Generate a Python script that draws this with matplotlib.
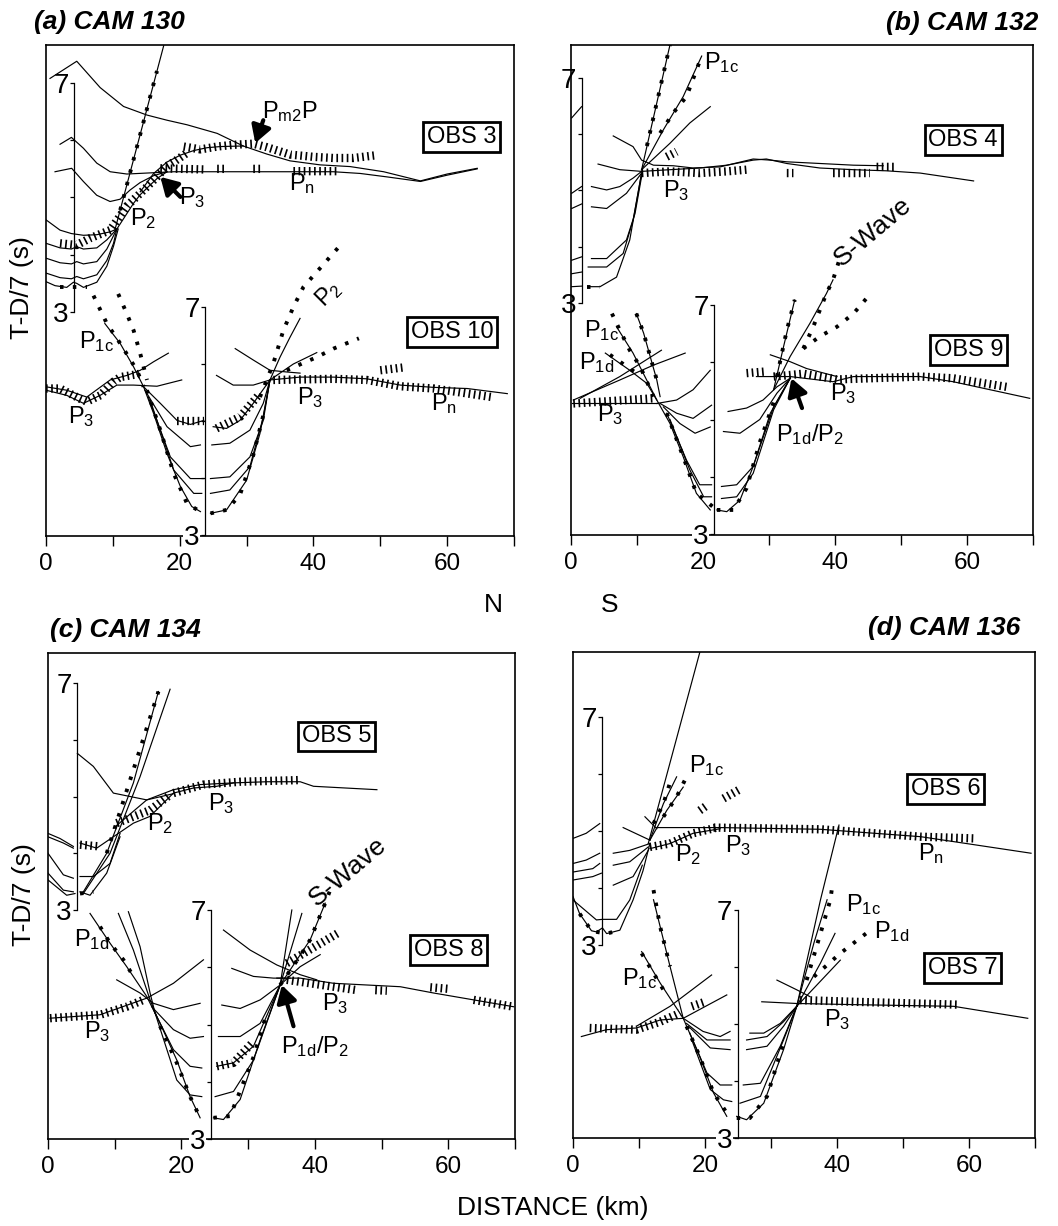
import numpy as np
import matplotlib.pyplot as plt

plt.rcParams['font.family'] = ['Liberation Sans', 'DejaVu Sans']
plt.rcParams['mathtext.fontset'] = 'custom'
plt.rcParams['mathtext.rm'] = 'Liberation Sans'

nan = np.nan
W, H = 1058, 1226

# travel-time curves (km, reduced time T-D/7 in s) per instrument
# lines = model curves, bars = dense picks, dots = sparse picks

# ---------- (a) CAM 130 ----------
obs3_lines = [
    ([0.6, 4.6, 8.1, 11.6, 15.1, 18.1, 21.1, 25.6, 29.5, 33.0, 36.5, 41.0, 45.5, 50.5, 56.0, 60.0, 64.5],
     [7.08, 7.38, 6.92, 6.59, 6.44, 6.35, 6.27, 6.12, 5.90, 5.76, 5.64, 5.57, 5.54, 5.45, 5.29, 5.41, 5.51]),
    ([2.1, 3.8, 5.6, 7.6, 9.6, 12.1, 15.6, 19.1, 28.0, 36.5, 43.0, 47.0, 51.0, 56.0, 60.0, 64.5],
     [5.93, 6.05, 5.86, 5.60, 5.45, 5.41, 5.43, 5.45, 5.45, 5.45, 5.45, 5.42, 5.36, 5.28, 5.39, 5.50]),
    ([1.35, 3.84, 5.59, 7.58, 9.58, 11.08, 12.57, 14.07, 16.07, 18.06],
     [5.45, 5.51, 5.28, 5.04, 4.93, 4.97, 5.13, 5.26, 5.38, 5.45]),
    ([10.6, 12.1, 13.1, 14.1, 15.6, 16.6, 18.1], [4.45, 4.72, 4.90, 5.05, 5.22, 5.33, 5.45]),
    ([14.1, 16.1, 18.1, 20.1, 22.1, 24.1, 26.1, 29.5], [5.10, 5.42, 5.62, 5.74, 5.82, 5.87, 5.89, 5.90]),
    ([0, 2.1, 3.8, 5.6, 7.6, 9.6, 10.6], [4.61, 4.43, 4.37, 4.34, 4.35, 4.40, 4.45]),
    ([0, 2.1, 3.8, 4.6, 5.6, 7.6, 9.1, 10.6], [4.20, 4.12, 4.10, 4.14, 4.10, 4.12, 4.26, 4.45]),
    ([0, 2.1, 3.8, 4.6, 5.6, 7.6, 9.1, 10.6], [3.94, 3.86, 3.84, 3.88, 3.84, 3.88, 4.10, 4.45]),
    ([0, 2.1, 3.8, 4.6, 5.6, 7.6, 9.1, 10.1, 10.6], [3.68, 3.60, 3.58, 3.62, 3.58, 3.65, 3.90, 4.20, 4.45]),
    ([0, 1.35, 3.1, 4.1, 4.6, 5.6, 7.6, 9.1, 10.1, 10.8], [3.53, 3.46, 3.43, 3.52, 3.50, 3.43, 3.52, 3.80, 4.15, 4.45]),
    ([10.3, 17.6], [4.43, 7.65]),
]
obs3_bars = [
    ([20.6, 23.1, 25.6, 28.0, 31.0, 33.0, 36.5, 40.0, 43.0, 46.0, 49.5],
     [5.89, 5.84, 5.89, 5.92, 5.94, 5.88, 5.75, 5.71, 5.69, 5.69, 5.74]),
    ([17.1, 23.6, nan, 25.6, 27.1, nan, 31.0, 32.5, nan, 37.0, 43.5],
     [5.51, 5.49, nan, 5.50, 5.50, nan, 5.50, 5.50, nan, 5.46, 5.46]),
    ([2.1, 4.6, 6.6, 9.6, 12.1, 14.6, 16.6, 18.1, 19.1, 21.1],
     [4.20, 4.17, 4.29, 4.43, 4.85, 5.13, 5.36, 5.55, 5.62, 5.78]),
]
obs3_dots = [
    ([11.1, 16.6], [4.78, 7.21]),
    ([2.1, 6.1], [3.44, 3.44]),
]
obs3_labels = [(14.6, 4.64, r'$\mathregular{P_2}$', 0), (21.9, 5.0, r'$\mathregular{P_3}$', 0),
               (36.5, 6.5, r'$\mathregular{P_{m2}P}$', 0), (38.3, 5.25, r'$\mathregular{P_n}$', 0)]
obs3_arrows = [((20.1, 5.01), (17.1, 5.36)), ((32.5, 6.35), (31.3, 5.95))]

obs10_lines = [
    ([0, 3.1, 5.6, 8.1, 10.6, 13.1, 16.6, 20.3], [5.54, 5.45, 5.31, 5.45, 5.63, 5.63, 5.61, 5.72]),
    ([0, 3.1, 6.1, 9.6, 12.1, 14.1, 16.1, 18.3], [5.60, 5.54, 5.42, 5.72, 5.80, 5.89, 6.04, 6.19]),
    ([8.8, 11.1, 13.1, 14.6, 16.1, 18.1, 20.1, 21.8, 23.1], [6.71, 6.36, 5.95, 5.60, 5.13, 4.43, 3.85, 3.50, 3.41]),
    ([14.6, 17.1, 19.6, 21.6, 23.6], [5.60, 5.31, 5.01, 4.94, 5.01]),
    ([14.8, 18.1, 21.6, 23.1], [5.54, 4.90, 4.55, 4.58]),
    ([15.3, 18.6, 21.6, 23.6], [5.42, 4.37, 3.99, 3.99]),
    ([15.6, 19.1, 22.1, 23.3], [5.36, 4.14, 3.73, 3.73]),
    ([25.5, 28.0, 31.0, 33.5], [5.80, 5.63, 5.63, 5.72]),
    ([28.3, 31.0, 33.5, 36.0, 38.0], [6.27, 6.07, 5.89, 5.86, 5.84]),
    ([25.0, 27.0, 29.0, 31.0, 33.5], [4.90, 4.87, 5.01, 5.31, 5.72]),
    ([24.8, 27.5, 30.5, 32.5, 33.5], [4.58, 4.61, 4.84, 5.31, 5.72]),
    ([24.6, 27.5, 30.5, 32.5, 33.5], [3.99, 4.02, 4.37, 5.01, 5.72]),
    ([24.6, 27.5, 30.5, 32.5, 33.5], [3.73, 3.79, 4.20, 5.07, 5.72]),
    ([24.6, 27.0, 30.0, 32.0, 33.5], [3.38, 3.44, 3.96, 4.78, 5.72]),
    ([33.5, 38.0, 43.0, 48.0, 53.0, 58.0, 63.0, 69.0], [5.72, 5.77, 5.77, 5.74, 5.63, 5.59, 5.57, 5.48]),
    ([33.5, 35.0, 36.5, 38.0], [5.72, 6.12, 6.47, 6.80]),
    ([33.5, 37.0, 40.5], [5.72, 6.00, 6.20]),
]
obs10_bars = [
    ([0, 2.1, 5.1, 6.1, 8.1, 10.1, 11.1, 14.1], [5.57, 5.57, 5.39, 5.34, 5.45, 5.69, 5.77, 5.83]),
    ([19.6, 23.6], [5.0, 5.0]),
    ([34.0, 43.0, 48.0, 53.0, 58.0, 66.7], [5.72, 5.74, 5.72, 5.61, 5.57, 5.42]),
    ([50.0, 53.5], [5.89, 5.94]),
    ([25.5, 29.0, 32.0], [4.87, 5.07, 5.48]),
]
obs10_dots = [
    ([7.1, 9.1, 11.1, 13.6, 14.6], [7.20, 6.71, 6.36, 5.89, 5.60]),
    ([10.8, 12.1, 13.1, 14.1, 15.1], [7.23, 6.88, 6.59, 6.18, 5.72]),
    ([15.1, 17.1, 19.1, 21.1, 23.1], [5.54, 4.84, 4.08, 3.55, 3.41]),
    ([32.0, 34.0, 35.5, 37.0, 38.5, 44.0], [5.42, 6.01, 6.59, 7.00, 7.35, 8.08]),
    ([36.0, 40.5, 43.0, 46.8], [5.89, 6.12, 6.27, 6.45]),
    ([24.6, 27.0, 29.0, 31.0, 32.5], [3.38, 3.44, 3.70, 4.40, 5.10]),
]
obs10_labels = [(7.6, 6.39, r'$\mathregular{P_{1c}}$', 0), (5.3, 5.07, r'$\mathregular{P_3}$', 0),
                (39.5, 5.42, r'$\mathregular{P_3}$', 0), (59.5, 5.31, r'$\mathregular{P_n}$', 0),
                (42.3, 7.23, r'$\mathregular{P_2}$', 45)]
obs10_arrows = []

# ---------- (b) CAM 132 ----------
obs4_lines = [
    ([10.7, 15.0], [5.37, 7.59]),
    ([10.7, 14.0, 17.0, 19.8], [5.37, 6.08, 6.67, 7.39]),
    ([10.7, 15.0, 18.0, 21.1], [5.37, 5.84, 6.20, 6.49]),
    ([6.4, 9.4, 10.7, 12.5, 15.5, 18.5, 22.6, 27.6, 30.2, 32.7, 42.8, 47.3],
     [5.97, 5.78, 5.54, 5.45, 5.44, 5.40, 5.42, 5.56, 5.54, 5.51, 5.45, 5.44]),
    ([4.1, 7.4, 10.7, 15.0, 19.5, 23.6, 27.6, 29.6, 32.7, 37.7, 42.8, 47.8, 52.9, 61.0],
     [5.47, 5.37, 5.34, 5.37, 5.40, 5.45, 5.54, 5.56, 5.48, 5.40, 5.37, 5.35, 5.31, 5.17]),
    ([3.1, 5.4, 7.4, 9.4, 10.7], [5.07, 5.01, 5.07, 5.22, 5.34]),
    ([3.1, 5.4, 8.4, 10.7], [4.71, 4.68, 4.95, 5.31]),
    ([3.1, 5.4, 8.4, 9.7, 10.7], [3.79, 3.79, 4.12, 4.59, 5.25]),
    ([2.6, 5.4, 7.9, 9.4, 10.7], [3.64, 3.64, 3.88, 4.47, 5.31]),
    ([2.6, 4.4, 6.9, 8.9, 10.7], [3.29, 3.29, 3.46, 4.12, 5.31]),
    ([0.1, 1.6], [6.29, 6.49]),
    ([0.1, 1.6], [4.95, 5.07]),
    ([0.1, 1.6], [4.68, 4.76]),
    ([0.1, 1.6], [3.76, 3.82]),
    ([0.1, 1.6], [3.52, 3.55]),
    ([0.1, 1.6], [3.29, 3.30]),
]
obs4_bars = [
    ([10.7, 15.0, 19.5, 23.6, 26.6, nan, 32.7, 33.7, nan, 39.7, 45.3, nan, 46.3, 49.3],
     [5.31, 5.34, 5.31, 5.34, 5.37, nan, 5.31, 5.31, nan, 5.31, 5.31, nan, 5.42, 5.42]),
    ([14.5, 16.0], [5.60, 5.69]),
]
obs4_dots = [
    ([13.5, 15.5, 17.5, 19.8], [6.02, 6.38, 6.67, 7.39]),
    ([11.5, 15.0], [5.79, 7.59]),
    ([2.4, 4.4], [3.29, 3.29]),
]
obs4_labels = [(22.8, 7.27, r'$\mathregular{P_{1c}}$', 0), (16.0, 5.0, r'$\mathregular{P_3}$', 0)]
obs4_arrows = []

obs9_lines = [
    ([0.1, 13.0], [5.28, 5.28]),
    ([1.4, 7.4, 13.7], [5.37, 5.75, 6.21]),
    ([0.35, 7.4, 12.5, 17.3], [5.34, 5.69, 5.95, 6.16]),
    ([6.9, 9.4, 13.0, 15.0, 17.0, 19.0, 21.1], [6.62, 6.16, 5.34, 4.93, 4.35, 3.71, 3.42]),
    ([5.2, 8.9, 11.5, 13.0], [6.16, 5.86, 5.63, 5.34]),
    ([9.9, 11.0, 12.0, 13.0, 13.5], [6.85, 6.51, 6.10, 5.69, 5.40]),
    ([13.0, 16.0, 18.5, 21.1], [5.28, 5.34, 5.52, 5.86]),
    ([13.5, 16.0, 18.5, 21.3], [5.28, 5.11, 5.02, 5.25]),
    ([14.0, 16.5, 18.8, 21.1], [5.22, 4.93, 4.76, 4.87]),
    ([14.5, 17.5, 19.5, 21.3], [5.11, 4.29, 3.86, 3.86]),
    ([15.0, 18.0, 20.1, 21.3], [5.00, 4.12, 3.65, 3.65]),
    ([23.8, 26.6, 29.1, 31.2, 33.2], [5.14, 5.20, 5.34, 5.57, 5.72]),
    ([23.1, 25.6, 28.6, 31.2, 33.2], [4.79, 4.76, 5.00, 5.46, 5.72]),
    ([22.8, 25.1, 27.6, 30.7, 33.2], [3.83, 3.86, 4.18, 5.22, 5.72]),
    ([22.8, 25.1, 27.6, 30.7, 33.2], [3.62, 3.65, 4.06, 5.17, 5.72]),
    ([22.1, 23.6, 25.6, 27.6, 30.2, 33.2], [3.42, 3.39, 3.59, 4.18, 5.11, 5.72]),
    ([30.7, 32.2, 33.9], [5.52, 6.27, 7.09]),
    ([30.7, 33.2, 36.2, 38.7, 39.7], [5.52, 6.10, 6.68, 7.20, 7.44]),
    ([28.1, 33.2, 39.7, 42.8, 52.9, 57.9, 69.5], [5.75, 5.75, 5.66, 5.75, 5.75, 5.66, 5.37]),
    ([30.2, 33.2, 35.7, 40.3], [6.13, 6.01, 5.89, 5.75]),
]
obs9_bars = [
    ([0.35, 12.5], [5.28, 5.37]),
    ([26.6, 29.6, nan, 30.7, 35.2, 40.3, 52.9, 57.9, 66.0], [5.81, 5.84, nan, 5.75, 5.80, 5.70, 5.75, 5.72, 5.57]),
]
obs9_dots = [
    ([6.2, 7.4, 8.9, 10.5, 12.5], [6.85, 6.56, 6.21, 5.92, 5.40]),
    ([9.9, 11.0, 12.0, 13.0], [6.85, 6.51, 6.10, 5.69]),
    ([5.9, 9.9], [6.13, 5.81]),
    ([14.5, 17.0, 19.0, 22.1], [5.11, 4.35, 3.71, 3.42]),
    ([31.2, 32.7, 33.9], [5.75, 6.56, 7.09]),
    ([35.2, 36.7, 38.7, 39.7, 40.8], [6.24, 6.62, 7.20, 7.44, 7.84]),
    ([35.2, 37.7, 40.3, 42.8, 44.8], [6.24, 6.45, 6.62, 6.85, 7.12]),
    ([22.1, 24.6, 26.6, 28.6, 30.7], [3.42, 3.42, 3.80, 4.60, 5.30]),
]
obs9_labels = [(4.6, 6.55, r'$\mathregular{P_{1c}}$', 0), (3.9, 6.0, r'$\mathregular{P_{1d}}$', 0),
               (5.9, 5.08, r'$\mathregular{P_3}$', 0), (41.3, 5.46, r'$\mathregular{P_3}$', 0),
               (36.2, 4.73, r'$\mathregular{P_{1d}/P_2}$', 0), (45.8, 8.28, 'S-Wave', 40)]
obs9_arrows = [((35.0, 5.20), (33.4, 5.72))]

# ---------- (c) CAM 134 ----------
obs5_lines = [
    ([4.4, 6.8, 9.8, 14.8, 18.8, 22.8, 27.8, 32.8, 37.8, 39.8, 49.3],
     [5.76, 5.53, 5.06, 4.94, 5.12, 5.21, 5.24, 5.26, 5.26, 5.18, 5.12]),
    ([4.8, 7.3, 9.8, 12.8, 15.3, 18.8, 21.8, 25.3, 27.8], [4.18, 4.09, 4.29, 4.53, 4.65, 5.06, 5.15, 5.18, 5.24]),
    ([9.8, 14.8, 18.8], [4.44, 4.94, 5.05]),
    ([5.3, 8.8, 12.8, 16.55], [3.32, 4.00, 5.24, 6.85]),
    ([5.3, 9.3, 13.8, 18.3], [3.29, 4.00, 5.35, 6.89]),
    ([0, 1.8, 3.8], [4.35, 4.26, 4.12]),
    ([0, 2.3, 3.8], [4.29, 4.18, 4.09]),
    ([0, 2.3, 3.8], [4.00, 3.62, 3.56]),
    ([0, 2.3, 3.8], [3.65, 3.35, 3.32]),
    ([0, 2.8, 4.05], [3.53, 3.26, 3.29]),
    ([4.8, 6.8, 9.3, 10.8], [3.59, 3.59, 3.82, 4.35]),
    ([4.8, 6.3, 8.8, 10.8], [3.32, 3.26, 3.65, 4.29]),
]
obs5_bars = [
    ([18.8, 23.3, 28.8, 37.8], [5.06, 5.21, 5.26, 5.29]),
    ([10.3, 15.3, 18.3], [4.53, 4.76, 5.03]),
    ([4.8, 7.8], [4.15, 4.12]),
]
obs5_dots = [
    ([8.8, 16.55], [4.0, 6.85]),
    ([4.8, 6.8], [3.29, 3.32]),
]
obs5_labels = [(16.8, 4.53, r'$\mathregular{P_2}$', 0), (26.0, 4.88, r'$\mathregular{P_3}$', 0)]
obs5_arrows = []

obs8_lines = [
    ([0.3, 7.8, 14.8, 18.8, 23.3], [5.11, 5.17, 5.46, 5.72, 6.13]),
    ([10.3, 13.8, 15.8, 18.8, 22.8], [5.78, 5.55, 5.37, 5.26, 5.37]),
    ([6.3, 9.3, 11.8, 14.8, 16.8, 19.3, 21.3, 22.8], [6.94, 6.42, 6.01, 5.49, 5.02, 4.38, 3.74, 3.37]),
    ([10.55, 12.8, 15.3, 16.3], [6.94, 6.30, 5.43, 5.14]),
    ([12.05, 13.8, 15.3, 16.05], [6.97, 6.36, 5.55, 5.20]),
    ([15.55, 18.8, 21.3, 23.3], [5.31, 4.91, 4.76, 4.79]),
    ([15.8, 18.8, 21.3, 23.05], [5.26, 4.56, 4.27, 4.24]),
    ([16.05, 19.3, 21.3, 23.05], [5.20, 4.03, 3.77, 3.74]),
    ([26.3, 30.3, 34.3, 37.8, 40.3], [6.65, 6.30, 6.04, 5.87, 5.78]),
    ([27.55, 30.8, 33.8, 36.3], [5.98, 5.84, 5.81, 5.81]),
    ([26.05, 28.8, 31.8, 34.8], [5.34, 5.28, 5.43, 5.69]),
    ([25.55, 28.8, 31.8, 34.8], [4.79, 4.79, 5.02, 5.69]),
    ([25.3, 27.8, 30.8, 34.8], [4.27, 4.33, 4.62, 5.69]),
    ([25.05, 27.8, 30.8, 34.8], [3.74, 3.83, 4.38, 5.69]),
    ([24.8, 26.3, 28.8, 31.8, 34.8], [3.37, 3.34, 3.69, 4.73, 5.69]),
    ([34.8, 36.55], [5.69, 7.0]),
    ([34.8, 38.05], [5.69, 6.94]),
    ([34.8, 39.3, 41.55], [5.69, 6.48, 7.12]),
    ([34.8, 37.8, 40.8], [5.69, 6.01, 6.22]),
    ([34.3, 37.8, 42.8, 52.8, 57.8, 69.8], [5.81, 5.81, 5.72, 5.66, 5.55, 5.31]),
]
obs8_bars = [
    ([0.3, 7.8, 11.8, 14.3], [5.11, 5.17, 5.31, 5.43]),
    ([35.8, 43.8], [6.07, 6.62]),
    ([35.8, 46.3, nan, 49.05, 50.8, nan, 57.3, 60.3, nan, 63.8, 69.8],
     [5.78, 5.60, nan, 5.60, 5.59, nan, 5.65, 5.62, nan, 5.43, 5.31]),
    ([25.3, 27.8, 30.8], [4.27, 4.33, 4.70]),
]
obs8_dots = [
    ([7.8, 9.3, 11.3, 12.8], [6.71, 6.42, 6.13, 5.84]),
    ([16.8, 19.3, 21.3, 22.8], [4.97, 4.33, 3.74, 3.37]),
    ([34.8, 37.8, 39.3, 41.55, 42.3], [5.69, 6.20, 6.48, 7.12, 7.35]),
    ([24.8, 27.3, 30.8, 32.8], [3.37, 3.40, 4.43, 5.20]),
]
obs8_labels = [(6.55, 6.48, r'$\mathregular{P_{1d}}$', 0), (7.3, 4.88, r'$\mathregular{P_3}$', 0),
               (43.0, 5.37, r'$\mathregular{P_3}$', 0), (40.0, 4.62, r'$\mathregular{P_{1d}/P_2}$', 0),
               (45.0, 7.66, 'S-Wave', 40)]
obs8_arrows = [((36.8, 4.97), (35.05, 5.69))]

# ---------- (d) CAM 136 ----------
obs6_lines = [
    ([11.4, 19.2], [4.78, 8.13]),
    ([11.65, 13.7, 15.7], [4.84, 5.48, 5.95]),
    ([11.65, 14.2, 16.7], [4.84, 5.36, 5.77]),
    ([7.6, 11.65], [5.06, 4.84]),
    ([10.9, 12.7], [5.25, 5.04]),
    ([12.7, 22.3, 37.5, 52.7, 69.4], [5.06, 5.06, 5.03, 4.90, 4.61]),
    ([11.65, 14.7, 18.2, 22.3], [4.69, 4.78, 4.96, 5.04]),
    ([0, 2.0, 4.05], [4.87, 4.96, 5.13]),
    ([0, 2.0, 4.05], [4.43, 4.49, 4.61]),
    ([0, 3.0, 4.05], [4.28, 4.34, 4.43]),
    ([0, 3.0, 4.3], [4.14, 4.20, 4.26]),
    ([0, 1.0, 2.8, 3.55, 4.46, 5.1, 7.1, 9.1, 10.6, 11.65], [3.85, 3.55, 3.25, 3.23, 3.30, 3.20, 3.26, 3.79, 4.30, 4.78]),
    ([0, 3.55, 4.46, 6.6, 8.6, 10.5], [3.79, 3.44, 3.45, 3.45, 3.79, 4.40]),
    ([6.1, 8.6, 11.65], [4.61, 4.66, 4.78]),
    ([6.1, 8.6, 11.4], [4.40, 4.46, 4.72]),
    ([6.1, 9.1, 11.4], [4.05, 4.20, 4.66]),
]
obs6_bars = [
    ([21.3, 37.5, 52.7, 60.8], [5.06, 5.03, 4.90, 4.87]),
    ([11.65, 14.7, 18.2, 21.8], [4.72, 4.78, 4.96, 5.06]),
    ([19.2, 20.3, nan, 22.8, 25.1], [5.36, 5.45, nan, 5.57, 5.72]),
]
obs6_dots = [
    ([12.2, 13.7, 14.9], [5.13, 5.48, 5.92]),
    ([13.7, 15.7, 17.2], [5.25, 5.60, 5.95]),
    ([1.0, 2.8, 3.55, 5.1, 7.1], [3.55, 3.25, 3.23, 3.20, 3.26]),
]
obs6_labels = [(20.2, 6.15, r'$\mathregular{P_{1c}}$', 0), (17.5, 4.58, r'$\mathregular{P_2}$', 0),
               (25.1, 4.75, r'$\mathregular{P_3}$', 0), (54.2, 4.61, r'$\mathregular{P_n}$', 0)]
obs6_arrows = []

obs7_lines = [
    ([1.27, 5.06, 9.6, 13.2, 16.7], [4.78, 4.90, 4.93, 5.07, 5.10]),
    ([9.6, 14.7, 21.0], [4.96, 5.31, 5.86]),
    ([16.7, 23.3], [5.10, 5.51]),
    ([10.4, 13.2, 16.7, 19.2, 21.3, 23.3], [6.27, 5.72, 5.10, 4.43, 3.79, 3.38]),
    ([12.2, 13.2, 14.7, 16.7], [7.18, 6.71, 6.01, 5.10]),
    ([16.7, 19.7, 22.3, 23.8], [5.10, 4.87, 4.78, 4.87]),
    ([17.2, 20.3, 23.8], [5.01, 4.72, 4.72]),
    ([17.5, 20.8, 23.8], [4.96, 4.58, 4.55]),
    ([17.7, 20.3, 22.3, 24.05], [4.84, 4.14, 3.93, 3.93]),
    ([18.0, 20.8, 22.8, 24.05], [4.72, 3.85, 3.67, 3.64]),
    ([26.8, 28.9, 31.4, 33.9], [4.84, 4.84, 5.01, 5.31]),
    ([26.3, 29.4, 31.9, 33.9], [4.72, 4.78, 5.04, 5.31]),
    ([26.3, 29.4, 31.9, 33.9], [4.55, 4.61, 4.96, 5.31]),
    ([25.8, 28.4, 31.4, 33.9], [3.93, 3.96, 4.61, 5.31]),
    ([25.3, 28.4, 31.9, 33.9], [3.61, 3.73, 4.72, 5.31]),
    ([24.8, 26.3, 28.9, 31.9, 33.9], [3.38, 3.32, 3.61, 4.55, 5.31]),
    ([33.9, 37.5, 40.3], [5.31, 7.18, 8.49]),
    ([33.9, 36.5, 38.5], [5.31, 6.42, 7.18]),
    ([33.9, 37.5, 39.7], [5.31, 6.07, 6.59]),
    ([33.9, 40.5], [5.31, 6.12]),
    ([28.6, 33.9, 42.5, 57.7, 68.9], [5.39, 5.36, 5.34, 5.31, 5.10]),
    ([30.9, 33.9, 35.9], [5.77, 5.60, 5.48]),
]
obs7_bars = [
    ([2.53, 9.6, 13.2, 16.2], [4.93, 4.90, 5.04, 5.19]),
    ([18.0, 20.0], [5.31, 5.39]),
    ([34.4, 42.5, 58.2], [5.42, 5.39, 5.34]),
]
obs7_dots = [
    ([10.4, 13.7], [6.24, 5.60]),
    ([12.2, 13.2, 14.7], [7.35, 6.71, 6.01]),
    ([17.2, 19.2, 21.3, 23.8], [4.96, 4.43, 3.79, 3.35]),
    ([35.4, 37.5, 39.0, 39.2], [5.77, 6.59, 7.18, 7.35]),
    ([36.5, 40.5, 45.1], [5.83, 6.24, 6.65]),
    ([24.8, 26.8, 29.4, 31.9], [3.35, 3.35, 3.73, 4.67]),
]
obs7_labels = [(10.1, 5.80, r'$\mathregular{P_{1c}}$', 0), (44.0, 7.09, r'$\mathregular{P_{1c}}$', 0),
               (48.3, 6.62, r'$\mathregular{P_{1d}}$', 0), (40.0, 5.07, r'$\mathregular{P_3}$', 0)]
obs7_arrows = []

# panel frames in pixels: left, top, right, bottom
panels = {
    'a': (46, 45, 514, 536),
    'b': (571, 45, 1033, 535),
    'c': (48, 653, 515, 1139),
    'd': (573, 652, 1035, 1138),
}

fig = plt.figure(figsize=(W / 100, H / 100), dpi=100)


def make_panel(box):
    l, t, r, b = box
    ax = fig.add_axes([l / W, 1 - b / H, (r - l) / W, (b - t) / H])
    ax.set_xlim(0, 70)
    ax.set_ylim(0, 1)
    ax.set_yticks([])
    ax.set_xticks([0, 20, 40, 60])
    ax.set_xticks([10, 30, 50, 70], minor=True)
    ax.tick_params(axis='x', which='both', direction='out', length=7, width=1, labelsize=17.5, pad=5)
    for sp in ax.spines.values():
        sp.set_linewidth(1.2)
    return ax


def section(panel, box, y3, y7, x_obs, name, lines, bars, dots, labels, arrows, obs_xy, lower=False):
    t, b = box[1], box[3]
    ph = b - t
    sec = panel.inset_axes([0, (b - y3) / ph, 1, (y3 - y7) / ph])
    sec.set_xlim(0, 70)
    sec.set_ylim(3, 7)
    sec.patch.set_visible(False)
    for side in ('top', 'right', 'bottom'):
        sec.spines[side].set_visible(False)
    sec.spines['left'].set_position(('data', x_obs))
    sec.spines['left'].set_linewidth(0.9)
    sec.set_xticks([])
    sec.set_yticks([3, 4, 5, 6, 7], ['3', '', '', '', '7'])
    sec.tick_params(axis='y', length=3, width=0.9, labelsize=20, pad=1)
    if lower:
        sec.get_yticklabels()[0].set_bbox(dict(fc='white', ec='none', pad=0.5))

    for x, y in lines:
        ln, = sec.plot(x, y, color='k', lw=0.85)
        ln.set_clip_path(panel.patch)
    for x, y in bars:
        ln, = sec.plot(x, y, color='k', lw=6, linestyle=(0, (0.2, 0.42)))
        ln.set_clip_path(panel.patch)
    for x, y in dots:
        ln, = sec.plot(x, y, color='k', lw=2.8, linestyle=(0, (0.9, 2.4)))
        ln.set_clip_path(panel.patch)

    for x, y, txt, rot in labels:
        fs = 19 if txt == 'S-Wave' else 17
        sec.text(x, y, txt, fontsize=fs, rotation=rot, ha='center', va='center')
    for tail, head in arrows:
        sec.annotate('', xy=head, xytext=tail, annotation_clip=False,
                     arrowprops=dict(arrowstyle='-|>,head_length=0.6,head_width=0.35',
                                     color='k', lw=3, shrinkA=0, shrinkB=0, mutation_scale=17))
    sec.text(obs_xy[0], obs_xy[1], name, fontsize=17, ha='center', va='center', zorder=5,
             bbox=dict(boxstyle='square,pad=0.16', fc='white', ec='black', lw=2))
    return sec


ax_a = make_panel(panels['a'])
section(ax_a, panels['a'], 312, 83, 4.2, 'OBS 3', obs3_lines, obs3_bars, obs3_dots,
        obs3_labels, obs3_arrows, (62.2, 6.06))
section(ax_a, panels['a'], 535, 307, 23.8, 'OBS 10', obs10_lines, obs10_bars, obs10_dots,
        obs10_labels, obs10_arrows, (60.7, 6.56), lower=True)

ax_b = make_panel(panels['b'])
section(ax_b, panels['b'], 303, 78, 1.6, 'OBS 4', obs4_lines, obs4_bars, obs4_dots,
        obs4_labels, obs4_arrows, (59.4, 5.90))
section(ax_b, panels['b'], 534, 305, 21.7, 'OBS 9', obs9_lines, obs9_bars, obs9_dots,
        obs9_labels, obs9_arrows, (60.2, 6.21), lower=True)

ax_c = make_panel(panels['c'])
section(ax_c, panels['c'], 910, 683, 4.4, 'OBS 5', obs5_lines, obs5_bars, obs5_dots,
        obs5_labels, obs5_arrows, (43.3, 6.06))
section(ax_c, panels['c'], 1139, 910, 24.45, 'OBS 8', obs8_lines, obs8_bars, obs8_dots,
        obs8_labels, obs8_arrows, (60.0, 6.30), lower=True)

ax_d = make_panel(panels['d'])
section(ax_d, panels['d'], 945, 717, 4.46, 'OBS 6', obs6_lines, obs6_bars, obs6_dots,
        obs6_labels, obs6_arrows, (56.5, 5.74))
section(ax_d, panels['d'], 1138, 910, 24.96, 'OBS 7', obs7_lines, obs7_bars, obs7_dots,
        obs7_labels, obs7_arrows, (59.0, 5.98), lower=True)

title_kw = dict(fontsize=19, fontweight='bold', fontstyle='italic', va='center')
fig.text(34 / W, 1 - 22 / H, '(a) CAM 130', ha='left', **title_kw)
fig.text(1038 / W, 1 - 23 / H, '(b) CAM 132', ha='right', **title_kw)
fig.text(50 / W, 1 - 630 / H, '(c) CAM 134', ha='left', **title_kw)
fig.text(1020 / W, 1 - 628 / H, '(d) CAM 136', ha='right', **title_kw)

fig.text(22 / W, 1 - 288 / H, 'T-D/7 (s)', rotation=90, fontsize=19, ha='center', va='center')
fig.text(24 / W, 1 - 895 / H, 'T-D/7 (s)', rotation=90, fontsize=19, ha='center', va='center')
fig.text(553 / W, 1 - 1208 / H, 'DISTANCE (km)', fontsize=19, ha='center', va='center')
fig.text(493 / W, 1 - 605 / H, 'N', fontsize=19, ha='center', va='center')
fig.text(610 / W, 1 - 605 / H, 'S', fontsize=19, ha='center', va='center')

fig.savefig('out.png', dpi=100, facecolor='white')
